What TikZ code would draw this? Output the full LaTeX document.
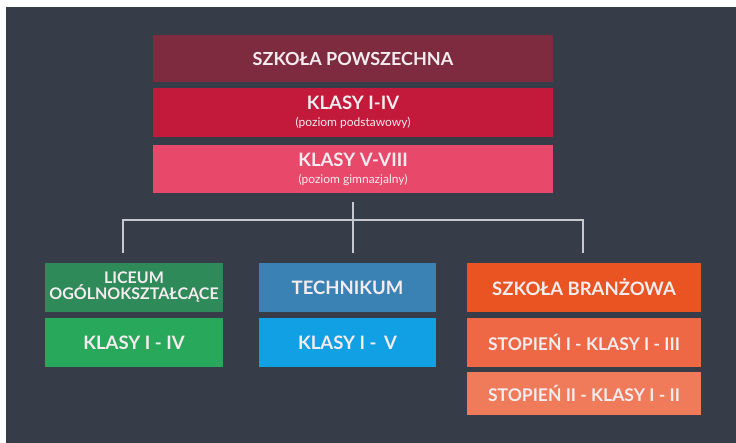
\documentclass[tikz,border=0pt]{standalone}
\usepackage{fontspec}
\setmainfont{Lato}
\definecolor{bgdark}{HTML}{363D48}
\definecolor{cmaroon}{HTML}{7E2B3F}
\definecolor{ccrimson}{HTML}{C3193B}
\definecolor{cpink}{HTML}{E8496B}
\definecolor{cgreenA}{HTML}{2E8A59}
\definecolor{cgreenB}{HTML}{28A85B}
\definecolor{cblueA}{HTML}{3A82B4}
\definecolor{cblueB}{HTML}{12A0E4}
\definecolor{corA}{HTML}{EA5422}
\definecolor{corB}{HTML}{EE6846}
\definecolor{corC}{HTML}{EF7B5B}
\definecolor{cline}{HTML}{C6CAD0}
\definecolor{ctext}{HTML}{F4ECEE}
\tikzset{
  box/.style={rectangle, inner sep=0pt, align=center, text=ctext, font=\bfseries\fontsize{18.5}{17}\selectfont},
  conn/.style={draw=cline, line width=2pt},
}
\newcommand{\subt}[1]{{\fontsize{12}{13}\selectfont\mdseries #1}}
\begin{document}
\begin{tikzpicture}[x=1pt,y=-1pt]
\useasboundingbox (0,0) rectangle (736,443);
\fill[white] (0,0) rectangle (736,443);
\fill[bgdark] (6,7) rectangle (736,443);
% top
\node[box, fill=cmaroon, minimum width=400pt, minimum height=47pt, font=\bfseries\fontsize{18}{17}\selectfont] (b1) at (353,58.5) {SZKOŁA POWSZECHNA};
\node[box, fill=ccrimson, minimum width=400pt, minimum height=49pt] (b2) at (353,112.5) {KLASY I-IV\\\subt{(poziom podstawowy)}};
\node[box, fill=cpink, minimum width=400pt, minimum height=48pt] (b3) at (353,169) {KLASY V-VIII\\\subt{(poziom gimnazjalny)}};
% bottom
\node[box, fill=cgreenA, minimum width=178pt, minimum height=49pt, font=\bfseries\fontsize{16}{16}\selectfont] (g1) at (134,287.5) {LICEUM\\OGÓLNOKSZTAŁCĄCE};
\node[box, fill=cgreenB, minimum width=178pt, minimum height=49pt] (g2) at (134,342.5) {KLASY I - IV};
\node[box, fill=cblueA, minimum width=177pt, minimum height=49pt] (t1) at (347.5,287.5) {TECHNIKUM};
\node[box, fill=cblueB, minimum width=177pt, minimum height=49pt] (t2) at (347.5,342.5) {KLASY I - \,V};
\node[box, fill=corA, minimum width=234pt, minimum height=49pt] (o1) at (584,287.5) {SZKOŁA BRANŻOWA};
\node[box, fill=corB, minimum width=234pt, minimum height=49pt, font=\bfseries\fontsize{17.5}{16}\selectfont] (o2) at (584,342.5) {STOPIEŃ I - KLASY I - III};
\node[box, fill=corC, minimum width=234pt, minimum height=43pt, font=\bfseries\fontsize{17.5}{16}\selectfont] (o3) at (584,393.5) {STOPIEŃ II - KLASY I - II};
% connectors
\coordinate (cs) at (353,202);
\coordinate (ce) at (353,253);
\coordinate (hl) at (123,220);
\coordinate (hr) at (583,220);
\coordinate (le) at (123,253);
\coordinate (re) at (583,253);
\draw[conn] (cs) -- (ce);
\draw[conn] (le) -- (hl) -- (hr) -- (re);
\end{tikzpicture}
\end{document}
